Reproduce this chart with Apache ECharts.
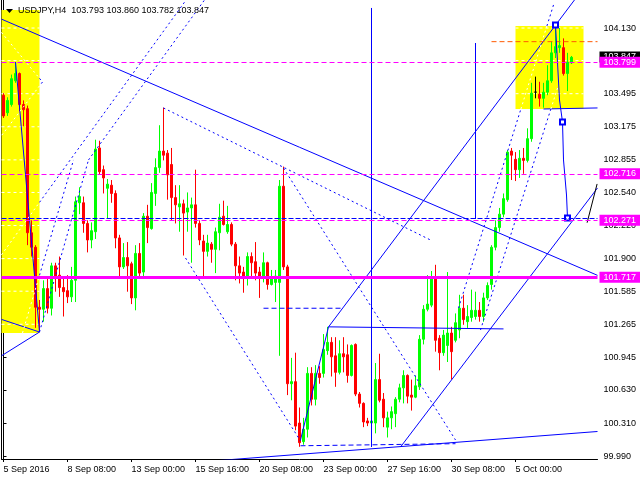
<!DOCTYPE html>
<html><head><meta charset="utf-8">
<script src="https://cdn.jsdelivr.net/npm/echarts@6/dist/echarts.min.js"></script>
<style>html,body{margin:0;padding:0;background:#fff}#c{width:640px;height:480px}</style>
</head><body><div id="c"></div>
<script>
// ---------- data ----------
const chartTitle = 'USDJPY,H4  103.793 103.860 103.782 103.847';
const xTickLabels = ['5 Sep 2016','8 Sep 08:00','13 Sep 00:00','15 Sep 16:00','20 Sep 08:00','23 Sep 00:00','27 Sep 16:00','30 Sep 08:00','5 Oct 00:00'];
const barsPerLabel = 16;
const slotCount = 149;
const yTicks = [99.990,100.310,100.630,100.945,101.265,101.585,101.900,102.220,102.540,102.855,103.175,103.495,103.815,104.130];
const yMin = 99.962, yMax = 104.401;

const opens = [103.48,103.31,103.39,103.62,103.69,103.39,103.35,102.15,102.01,101.43,101.41,101.61,101.42,101.83,101.74,101.62,101.59,101.53,101.69,102.44,
102.44,102.24,102.08,102.16,102.97,102.76,102.58,102.61,102.53,102.10,101.82,101.91,101.85,101.52,101.95,101.77,102.31,102.19,102.53,102.78,
102.94,102.92,102.81,102.49,102.40,102.43,102.35,102.39,102.42,102.24,102.07,101.97,102.04,101.99,102.15,102.31,102.16,102.23,102.04,101.83,
101.77,101.72,101.92,101.87,101.77,101.72,101.86,101.65,101.67,101.67,102.60,101.82,100.69,100.71,100.31,100.13,100.25,100.79,100.54,100.79,
100.79,101.01,101.09,100.96,100.80,100.98,100.97,100.77,101.07,100.59,100.50,100.33,100.31,100.31,100.73,100.54,100.27,100.36,100.40,100.54,
100.65,100.77,100.58,100.56,100.66,101.12,101.41,101.45,101.72,101.13,100.99,101.06,101.18,101.11,101.21,101.42,101.29,101.33,101.34,101.40,
101.34,101.52,101.65,102.01,102.20,102.33,102.47,102.94,102.86,102.76,102.87,102.85,103.06,103.51,103.49,103.45,103.51,103.62,103.89,103.94,
103.94,103.69,103.793];
const closes = [103.28,103.43,103.64,103.69,103.39,103.34,102.15,102.01,101.43,101.41,101.61,101.42,101.83,101.71,101.62,101.58,101.53,101.69,102.45,102.50,
102.24,102.08,102.17,102.96,102.74,102.68,102.62,102.53,102.10,101.82,101.91,101.83,101.52,101.95,101.76,102.31,102.20,102.54,102.78,102.94,
102.90,102.71,102.49,102.42,102.43,102.34,102.39,102.42,102.24,102.08,101.97,102.05,101.99,102.16,102.30,102.23,102.23,102.04,101.83,101.76,
101.72,101.92,101.86,101.76,101.72,101.86,101.65,101.72,101.73,102.60,101.82,100.69,100.71,100.28,100.12,100.25,100.79,100.54,100.79,100.75,
101.02,101.09,100.95,100.80,100.98,100.95,100.77,101.06,100.59,100.50,100.32,100.31,100.33,100.73,100.53,100.36,100.36,100.42,100.54,100.65,
100.77,100.57,100.56,100.67,101.12,101.41,101.46,101.72,101.11,100.99,101.16,101.18,101.00,101.28,101.42,101.31,101.34,101.40,101.40,101.34,
101.52,101.64,102.01,102.20,102.33,102.48,102.93,102.90,102.76,102.87,102.85,103.06,103.50,103.51,103.45,103.51,103.62,103.89,103.95,103.96,
103.69,103.80,103.847];
const lows = [103.26,103.28,103.37,103.60,103.32,103.18,102.03,101.92,101.23,101.19,101.29,101.37,101.35,101.58,101.53,101.34,101.47,101.48,101.48,102.33,
102.15,101.96,102.00,102.09,102.71,102.53,102.29,102.44,102.00,101.72,101.80,101.58,101.46,101.40,101.71,101.73,102.05,102.18,102.41,102.73,
102.85,102.47,102.27,102.24,102.16,101.93,102.16,101.86,102.20,102.03,101.72,101.92,101.86,101.76,101.98,102.22,102.14,102.02,101.69,101.66,
101.57,101.64,101.72,101.69,101.52,101.67,101.60,101.64,101.48,100.96,101.79,100.58,100.53,100.24,100.08,100.10,100.17,100.48,100.48,100.69,
100.75,100.97,100.76,100.66,100.78,100.80,100.70,100.76,100.57,100.46,100.27,100.28,100.10,100.21,100.51,100.27,100.17,100.25,100.27,100.51,
100.50,100.50,100.43,100.55,100.63,101.07,101.39,101.43,101.00,100.82,100.96,100.90,100.73,101.09,101.13,101.26,101.23,101.29,101.31,101.29,
101.29,101.50,101.60,101.98,102.16,102.30,102.45,102.66,102.65,102.68,102.72,102.83,103.03,103.45,103.37,103.36,103.48,103.60,103.84,103.89,
103.67,103.52,103.782];
const highs = [103.50,103.46,103.68,103.80,103.70,103.43,103.38,102.27,102.03,101.50,101.69,101.71,101.86,101.86,101.92,101.72,101.74,101.82,102.50,102.59,
102.50,102.27,102.25,103.05,103.04,102.80,102.67,102.66,102.56,102.13,102.05,102.06,101.87,102.03,102.05,102.34,102.42,102.63,102.87,103.19,
103.36,102.95,102.97,102.61,102.61,102.47,102.54,102.49,102.76,102.27,102.13,102.13,102.06,102.20,102.43,102.46,102.41,102.25,102.06,101.92,
101.82,101.96,101.96,102.06,101.82,101.96,101.87,101.79,101.79,102.66,102.79,101.84,100.94,100.99,100.46,100.36,100.85,100.85,100.87,100.86,
101.17,101.24,101.14,101.14,101.11,101.14,101.07,101.07,101.08,100.61,100.51,100.36,100.46,100.89,100.98,100.60,100.42,100.47,100.56,100.69,
100.82,100.78,100.73,100.77,101.16,101.45,101.74,101.78,101.84,101.16,101.21,101.77,101.24,101.37,101.55,101.55,101.45,101.60,101.58,101.48,
101.57,101.67,102.03,102.27,102.39,102.53,102.95,102.97,102.93,102.95,102.97,103.16,103.60,103.66,103.61,103.60,103.77,104.00,104.16,104.13,
104.03,103.89,103.860];

// price levels (right-axis tags)
const bidPrice = 103.847;
const magentaDashLevels = [103.799, 102.716, 102.271];
const magentaSolidLevel = 101.717;
const blueDashLevel = 102.29;
const orangeLevel = {from: 122, price: 103.998};

// rectangles [[barFrom, priceLow],[barTo, priceHigh]]
const yellowBoxes = [ [[-0.5, 101.181],[9, 104.304]], [[128, 103.347],[145, 104.150]] ];

// drawn objects: [bar index, price] anchors
const solidObjects = [
  [[-0.5, 104.216],[148.5, 101.738]],   // long falling trend line
  [[92, 104.324],[92, 100.078]],        // vertical line
  [[118, 103.985],[118, 102.283]],      // vertical line
  [[81.25, 101.24],[125, 101.22]],      // horizontal segment
  [[53, 99.945],[148.5, 100.228]],      // bottom support line
  [[81.25, 101.239],[143.5, 104.44]],   // rising channel upper
  [[99.25, 100.078],[148.5, 102.583]],  // rising channel lower
  [[74.25, 100.146],[81.25, 101.239]],  // zigzag leg
  [[3, 103.801],[9, 101.190]],          // zigzag leg left
  [[9, 101.190],[-0.5, 101.312]],       // fan left
  [[9, 101.190],[-0.5, 100.96]],        // fan left
  [[135, 103.347],[148.5, 103.357]]     // horizontal right
];
const dottedObjects = [
  [[-0.5, 101.937],[45.65, 104.401]],   // A
  [[21.25, 102.854],[50.25, 104.401]],  // C
  [[4.75, 101.181],[17.5, 102.854]],    // G
  [[9, 101.190],[21.25, 102.854]],      // G2
  [[-0.5, 104.087],[9.75, 103.608]],    // wedge upper
  [[9.75, 103.608],[-0.5, 103.090]],    // wedge lower
  [[40, 103.357],[106.75, 102.080]],    // D
  [[45.5, 101.906],[74.25, 100.136]],   // E
  [[70, 102.776],[113, 100.146]],       // F
  [[113.75, 101.422],[137.5, 104.353]], // right channel left
  [[119.25, 101.21],[138.75, 103.579]]  // right channel right
];
const dashedObjects = [
  [[65, 101.42],[84.75, 101.42]],
  [[74.25, 100.09],[113, 100.11]]
];
const forecastPath = [[138, 104.159],[139, 103.434],[139.75, 103.221],[140, 102.854],[140.75, 102.515],[141, 102.293]];
const forecastMarks = [0, 2, 5];
const blackSegment = [[145.9, 102.247],[148.4, 102.622]];

// ---------- chart ----------
const FONT = 'Liberation Sans, Arial, sans-serif';
const BLUE = '#0000ff', MAG = '#ff00ff';
const cats = Array.from({length: slotCount}, (_, i) => String(i));

function tInterval(a, b, r) {
  let t0 = 0, t1 = 1;
  const dx = b[0] - a[0], dy = b[1] - a[1];
  const p = [-dx, dx, -dy, dy];
  const q = [a[0] - r.x0, r.x1 - a[0], a[1] - r.y0, r.y1 - a[1]];
  for (let i = 0; i < 4; i++) {
    if (p[i] === 0) { if (q[i] < 0) return null; }
    else {
      const t = q[i] / p[i];
      if (p[i] < 0) { if (t > t1) return null; if (t > t0) t0 = t; }
      else { if (t < t0) return null; if (t < t1) t1 = t; }
    }
  }
  return t1 > t0 ? [t0, t1] : null;
}
const boxRects = yellowBoxes.map(b => ({x0: b[0][0], x1: b[1][0], y0: b[0][1], y1: b[1][1]}));
function splitByBoxes(a, b) {
  const ins = [];
  boxRects.forEach(r => { const iv = tInterval(a, b, r); if (iv) ins.push(iv); });
  ins.sort((p, q) => p[0] - q[0]);
  const outs = []; let t = 0;
  ins.forEach(iv => { if (iv[0] > t) outs.push([t, iv[0]]); t = Math.max(t, iv[1]); });
  if (t < 1) outs.push([t, 1]);
  const at = s => [a[0] + (b[0] - a[0]) * s, a[1] + (b[1] - a[1]) * s];
  return {inside: ins.map(iv => [at(iv[0]), at(iv[1])]), outside: outs.map(iv => [at(iv[0]), at(iv[1])])};
}
function seg(pts, color, type, width, z) {
  return {type: 'line', xAxisIndex: 1, yAxisIndex: 0, data: pts, showSymbol: false, symbol: 'none',
    lineStyle: {color: color, width: width, type: type}, z: z, silent: true, clip: true, animation: false};
}

const series = [];
series.push({type: 'line', xAxisIndex: 1, yAxisIndex: 0, data: [], z: 1, silent: true,
  markArea: {silent: true, itemStyle: {color: '#ffff00', opacity: 1}, data: yellowBoxes.map(b => [{coord: b[0]}, {coord: b[1]}])}});
boxRects.forEach(r => {
  yTicks.filter(v => v > r.y0 && v < r.y1).forEach(v => series.push(seg([[r.x0, v], [r.x1, v]], '#ffffff', [3, 3], 1, 1.5)));
});
const candleData = opens.map((o, i) => {
  const item = {value: [o, closes[i], lows[i], highs[i]]};
  if (o === closes[i]) item.itemStyle = {color: '#000', color0: '#000', borderColor: '#000', borderColor0: '#000'};
  return item;
});
series.push({type: 'candlestick', xAxisIndex: 0, yAxisIndex: 0, data: candleData, barWidth: 2, z: 3, silent: true,
  itemStyle: {color: '#00ff00', color0: '#ff0000', borderColor: '#00ff00', borderColor0: '#ff0000', borderWidth: 1}});
solidObjects.forEach(s => series.push(seg(s, BLUE, 'solid', 1, 4)));
dottedObjects.forEach(s => {
  const parts = splitByBoxes(s[0], s[1]);
  parts.outside.forEach(p => series.push(seg(p, BLUE, [2, 3], 1, 4)));
  parts.inside.forEach(p => series.push(seg(p, '#ffffff', [2, 3], 1, 4)));
});
dashedObjects.forEach(s => series.push(seg(s, BLUE, [5, 3], 1, 4)));
series.push(seg([[orangeLevel.from, orangeLevel.price], [148.5, orangeLevel.price]], '#ff5a00', [5, 3], 1, 4));
series.push(seg(blackSegment, '#000000', 'solid', 1, 4));
series.push({type: 'line', xAxisIndex: 1, yAxisIndex: 0, z: 4, silent: true, animation: false,
  data: forecastPath.map((p, i) => forecastMarks.includes(i) ? {value: p, symbol: 'emptyRect', symbolSize: 5} : {value: p, symbol: 'none'}),
  showSymbol: true, itemStyle: {color: BLUE, borderColor: BLUE, borderWidth: 1}, lineStyle: {color: BLUE, width: 1}});

const tag = (bg, fg) => ({show: true, position: 'end', distance: 2, formatter: p => p.name,
  backgroundColor: bg, color: fg, padding: [1, 4, 0, 4], fontSize: 9, fontFamily: FONT, lineHeight: 10});
series.push({type: 'line', xAxisIndex: 1, yAxisIndex: 0, data: [], clip: false, z: 5, silent: true,
  markLine: {silent: true, symbol: 'none', animation: false,
    data: [
      {yAxis: blueDashLevel, lineStyle: {color: BLUE, type: [5, 2], width: 1}, label: {show: false}},
      {yAxis: magentaSolidLevel, name: magentaSolidLevel.toFixed(3), lineStyle: {color: MAG, type: 'solid', width: 3}, label: tag(MAG, '#fff')},
      {yAxis: bidPrice, name: bidPrice.toFixed(3), lineStyle: {color: 'rgba(0,0,0,0)', width: 0}, label: tag('#000', '#fff')},
      ...magentaDashLevels.map(v => ({yAxis: v, name: v.toFixed(3), lineStyle: {color: MAG, type: [5, 3], width: 1}, label: tag(MAG, '#fff')}))
    ]}});

const chart = echarts.init(document.getElementById('c'), null, {renderer: 'canvas'});
chart.setOption({
  animation: false,
  backgroundColor: '#ffffff',
  title: {text: chartTitle, left: 18, top: 6, padding: 0, textStyle: {fontSize: 9, fontWeight: 'normal', color: '#000', fontFamily: FONT}},
  graphic: [{type: 'polygon', shape: {points: [[6, 9], [13, 9], [9.5, 13]]}, style: {fill: '#000'}, z: 10}],
  grid: {left: 1.5, right: 42.5, top: 0, bottom: 21, containLabel: false},
  xAxis: [
    {type: 'category', data: cats, boundaryGap: true,
      axisLine: {lineStyle: {color: '#000', width: 1}},
      axisTick: {show: true, length: 3, alignWithLabel: true, interval: i => i % barsPerLabel === 0 && i / barsPerLabel < xTickLabels.length, lineStyle: {color: '#000'}},
      axisLabel: {interval: i => i % barsPerLabel === 0 && i / barsPerLabel < xTickLabels.length,
        formatter: (v, i) => xTickLabels[i / barsPerLabel] || '', align: 'left', margin: 6, color: '#000', fontSize: 9, fontFamily: FONT},
      splitLine: {show: false}},
    {type: 'value', min: -0.5, max: 148.5, show: false}
  ],
  yAxis: [
    {type: 'value', position: 'right', min: yMin, max: yMax, scale: true,
      axisLine: {show: true, lineStyle: {color: '#000'}},
      axisTick: {show: true, length: 3, customValues: yTicks, lineStyle: {color: '#000'}},
      axisLabel: {customValues: yTicks, formatter: v => v.toFixed(3), margin: 6, color: '#000', fontSize: 9, fontFamily: FONT},
      splitLine: {show: false}},
    {type: 'value', position: 'left', min: yMin, max: yMax, scale: true,
      axisLine: {show: true, lineStyle: {color: '#000'}}, axisTick: {show: false}, axisLabel: {show: false}, splitLine: {show: false}}
  ],
  series: series
});
</script></body></html>
